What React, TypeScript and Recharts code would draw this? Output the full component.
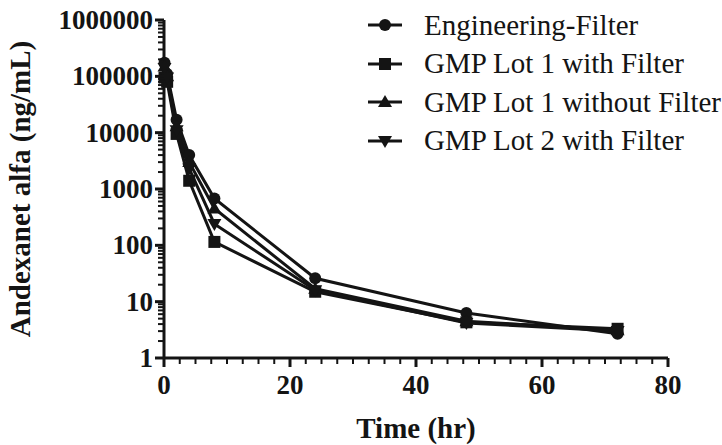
import React from "react";
import { LineChart, Line, XAxis, YAxis } from "recharts";

// sampling times (hr)
const times = [0.083, 0.5, 2, 4, 8, 24, 48, 72];

// Andexanet alfa concentrations (ng/mL)
const engineeringFilter = [175000, 110000, 17000, 4000, 680, 26, 6.3, 2.7];
const lot1WithFilter = [95000, 80000, 9500, 1400, 115, 15, 4.3, 3.3];
const lot1WithoutFilter = [150000, 100000, 13000, 3000, 450, 17, 4.5, 3.1];
const lot2WithFilter = [140000, 95000, 11000, 2300, 240, 16, 4.2, 3.0];

const seriesNames = [
  "Engineering-Filter",
  "GMP Lot 1 with Filter",
  "GMP Lot 1 without Filter",
  "GMP Lot 2 with Filter",
];
const seriesKeys = ["eng", "lot1f", "lot1nf", "lot2f"];
const seriesShapes = ["circle", "square", "triangle", "triangleDown"];

const xTicks: number[] = [];
for (let t = 0; t <= 80; t += 2.5) xTicks.push(t);
const xMajor = [0, 20, 40, 60, 80];

const yTicks: number[] = [];
for (let p = 0; p < 6; p++) {
  for (let m = 1; m < 10; m++) yTicks.push(m * Math.pow(10, p));
}
yTicks.push(1000000);

const data = times.map((t, i) => ({
  time: t,
  eng: engineeringFilter[i],
  lot1f: lot1WithFilter[i],
  lot1nf: lot1WithoutFilter[i],
  lot2f: lot2WithFilter[i],
}));

const INK = "#141414";
const FONT = "'Liberation Serif', 'Times New Roman', serif";

function Marker({ shape, cx, cy }: { shape: string; cx: number; cy: number }) {
  if (shape === "circle") return <circle cx={cx} cy={cy} r={6} fill={INK} />;
  if (shape === "square")
    return <rect x={cx - 6} y={cy - 6} width={12} height={12} fill={INK} />;
  if (shape === "triangle")
    return (
      <polygon
        points={`${cx},${cy - 7} ${cx - 7},${cy + 5} ${cx + 7},${cy + 5}`}
        fill={INK}
      />
    );
  return (
    <polygon
      points={`${cx},${cy + 7} ${cx - 7},${cy - 5} ${cx + 7},${cy - 5}`}
      fill={INK}
    />
  );
}

const isPow10 = (v: number) =>
  Math.abs(Math.log10(v) - Math.round(Math.log10(v))) < 1e-9;

function YTick(props: any) {
  const { x, y, payload } = props;
  const major = isPow10(payload.value);
  return (
    <g>
      <line
        x1={x}
        x2={x - (major ? 9 : 6)}
        y1={y}
        y2={y}
        stroke={INK}
        strokeWidth={major ? 3 : 2}
      />
      {major && (
        <text
          x={x - 11}
          y={y + 9}
          textAnchor="end"
          fontFamily={FONT}
          fontWeight="bold"
          fontSize={27}
          fill={INK}
        >
          {payload.value}
        </text>
      )}
    </g>
  );
}

function XTick(props: any) {
  const { x, y, payload } = props;
  const major = xMajor.includes(payload.value);
  return (
    <g>
      <line
        x1={x}
        x2={x}
        y1={y}
        y2={y + (major ? 9 : 6)}
        stroke={INK}
        strokeWidth={major ? 3 : 2}
      />
      {major && (
        <text
          x={x}
          y={y + 36}
          textAnchor="middle"
          fontFamily={FONT}
          fontWeight="bold"
          fontSize={27}
          fill={INK}
        >
          {payload.value}
        </text>
      )}
    </g>
  );
}

function ChartLegend() {
  return (
    <div
      style={{
        position: "absolute",
        top: 6,
        left: 368,
        fontFamily: FONT,
        fontSize: 29,
        color: INK,
      }}
    >
      {seriesNames.map((name, i) => (
        <div
          key={name}
          style={{ display: "flex", alignItems: "center", height: 38.5 }}
        >
          <svg width={34} height={20} style={{ marginRight: 22 }}>
            <line x1={0} x2={34} y1={10} y2={10} stroke={INK} strokeWidth={3} />
            <Marker shape={seriesShapes[i]} cx={17} cy={10} />
          </svg>
          <span style={{ whiteSpace: "nowrap" }}>{name}</span>
        </div>
      ))}
    </div>
  );
}

export default function App() {
  return (
    <div style={{ position: "relative", width: 722, height: 445, background: "#fff" }}>
      <style>{"body{margin:0}"}</style>
      <LineChart
        width={722}
        height={445}
        data={data}
        margin={{ top: 20, right: 54, bottom: 0, left: 0 }}
      >
        <XAxis
          dataKey="time"
          type="number"
          domain={[0, 80]}
          ticks={xTicks}
          interval={0}
          allowDecimals
          height={87}
          tickSize={0}
          tickMargin={0}
          tickLine={false}
          axisLine={{ stroke: INK, strokeWidth: 3 }}
          tick={<XTick />}
          label={(p: any) => {
            const vb = p.viewBox;
            return (
              <text
                x={vb.x + vb.width / 2}
                y={vb.y + 80}
                textAnchor="middle"
                fontFamily={FONT}
                fontWeight="bold"
                fontSize={29}
                fill={INK}
              >
                Time (hr)
              </text>
            );
          }}
        />
        <YAxis
          scale="log"
          domain={[1, 1000000]}
          ticks={yTicks}
          interval={0}
          width={164}
          tickSize={0}
          tickMargin={0}
          tickLine={false}
          allowDataOverflow
          axisLine={{ stroke: INK, strokeWidth: 3 }}
          tick={<YTick />}
          label={(p: any) => {
            const vb = p.viewBox;
            const cx = vb.x + 20;
            const cy = vb.y + vb.height / 2;
            return (
              <text
                x={cx}
                y={cy}
                transform={`rotate(-90 ${cx} ${cy})`}
                textAnchor="middle"
                dominantBaseline="central"
                fontFamily={FONT}
                fontWeight="bold"
                fontSize={29}
                fill={INK}
              >
                Andexanet alfa (ng/mL)
              </text>
            );
          }}
        />
        {seriesKeys.map((key, i) => (
          <Line
            key={key}
            dataKey={key}
            name={seriesNames[i]}
            stroke={INK}
            strokeWidth={3}
            isAnimationActive={false}
            dot={(p: any) => (
              <Marker key={`${key}-${p.index}`} shape={seriesShapes[i]} cx={p.cx} cy={p.cy} />
            )}
            activeDot={false}
          />
        ))}
      </LineChart>
      <ChartLegend />
    </div>
  );
}
